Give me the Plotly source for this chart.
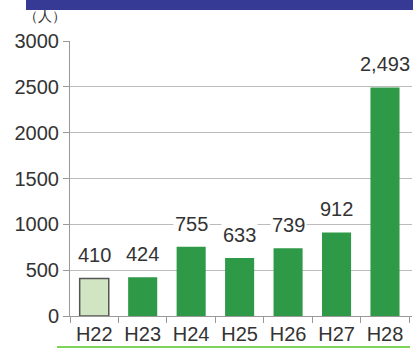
import plotly.graph_objects as go

# data
years = ['H22', 'H23', 'H24', 'H25', 'H26', 'H27', 'H28']
people = [410, 424, 755, 633, 739, 912, 2493]
labels = ['410', '424', '755', '633', '739', '912', '2,493']
bar_colors = ['#d0e6c3', '#2e9a47', '#2e9a47', '#2e9a47', '#2e9a47', '#2e9a47', '#2e9a47']
line_colors = ['#555555', '#2e9a47', '#2e9a47', '#2e9a47', '#2e9a47', '#2e9a47', '#2e9a47']
yticks = [0, 500, 1000, 1500, 2000, 2500, 3000]

W, H = 415, 349
L, R, T, B = 70, 3, 41, 33
pw, ph = W - L - R, H - T - B

def px_x(p):
    return (p - L) / pw

def px_y(p):
    return (H - B - p) / ph

fig = go.Figure()

fig.add_trace(go.Bar(
    x=years,
    y=people,
    marker=dict(color=bar_colors, line=dict(color=line_colors, width=[1.5, 0, 0, 0, 0, 0, 0])),
    width=0.6,
    hoverinfo='skip'))

# value labels sit on white boxes that cut the grid lines
for yr, v, t in zip(years, people, labels):
    fig.add_annotation(x=yr, y=v, text=t, showarrow=False, yanchor='middle', yshift=23,
                       bgcolor='white', font=dict(size=20, color='#333333'), borderpad=1)

# unit label
fig.add_annotation(xref='paper', yref='paper', x=px_x(22), y=px_y(16), text='（人）',
                   showarrow=False, yanchor='middle', font=dict(size=14, color='#333333'))

# blue band on top and green rule at the bottom
fig.add_shape(type='rect', xref='paper', yref='paper', x0=px_x(26), x1=px_x(413),
              y0=px_y(10), y1=px_y(-2), fillcolor='#363a94', line_width=0, layer='above')
fig.add_shape(type='line', xref='paper', yref='paper', x0=px_x(57), x1=px_x(410),
              y0=px_y(347), y1=px_y(347), line=dict(color='#7ed35b', width=2))

fig.update_layout(
    width=W, height=H,
    margin=dict(l=L, r=R, t=T, b=B),
    paper_bgcolor='white', plot_bgcolor='white',
    showlegend=False,
    font=dict(family='Arial, Liberation Sans', color='#333333'),
    xaxis=dict(tickson='boundaries', ticks='outside', ticklen=6, tickcolor='#999999',
               showline=True, linecolor='#999999', tickfont=dict(size=20)),
    yaxis=dict(range=[0, 3000], tickvals=yticks, tickformat='d', ticks='outside', ticklen=6,
               tickcolor='#999999', showline=True, linecolor='#999999', gridcolor='#bbbbbb',
               zeroline=False, tickfont=dict(size=20)),
)

fig.write_html('out.html', config={'displayModeBar': False},
               post_script="document.body.style.margin='0';")
